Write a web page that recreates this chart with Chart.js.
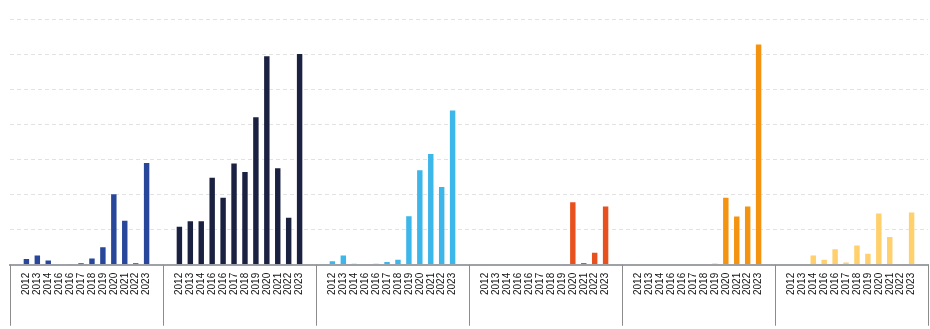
<!DOCTYPE html>
<html>
<head>
<meta charset="utf-8">
<script src="https://cdn.jsdelivr.net/npm/chart.js@4/dist/chart.umd.min.js"></script>
<style>
  html, body { margin: 0; padding: 0; background: #ffffff; }
  #wrap { width: 930px; height: 329px; position: relative; }
</style>
</head>
<body>
<div id="wrap"><canvas id="c"></canvas></div>
<script>
// Year labels repeated under each panel
const years = ['2012', '2013', '2014', '2016', '2016', '2017', '2018', '2019', '2020', '2021', '2022', '2023'];

// One series per panel, one value per year
const groupBlue   = [1.9, 2.9, 1.5, 0, 0.3, 0.65, 2.1, 5.3, 20.4, 12.8, 0.65, 29.3];
const groupNavy   = [11.1, 12.7, 12.7, 25.1, 19.4, 29.1, 26.7, 42.3, 59.7, 27.8, 13.7, 60.3];
const groupSky    = [1.3, 2.9, 0.4, 0, 0.4, 1.1, 1.7, 14.1, 27.2, 31.8, 22.4, 44.2];
const groupRed    = [0.1, 0, 0, 0, 0, 0, 0, 0.2, 18.1, 0.75, 3.7, 16.9];
const groupOrange = [0.3, 0, 0, 0, 0, 0, 0, 0.5, 19.4, 14.0, 16.9, 63.0];
const groupYellow = [0, 0, 2.9, 1.7, 4.7, 0.9, 5.8, 3.4, 14.9, 8.2, 0.15, 15.2];

const groups = [
  { values: groupBlue,   color: '#29479a' },
  { values: groupNavy,   color: '#1b2141' },
  { values: groupSky,    color: '#3db6e9' },
  { values: groupRed,    color: '#e8511e' },
  { values: groupOrange, color: '#f3930f' },
  { values: groupYellow, color: '#ffd06c' }
];

// Each panel: an empty slot, the twelve years, an empty slot
const slotsPerGroup = years.length + 2;
const labels = [];
groups.forEach(() => {
  labels.push('');
  years.forEach(y => labels.push(y));
  labels.push('');
});

const datasets = groups.map((g, gi) => {
  const data = new Array(labels.length).fill(null);
  g.values.forEach((v, i) => { data[gi * slotsPerGroup + 1 + i] = v; });
  return {
    data,
    backgroundColor: g.color,
    borderColor: 'rgba(255,255,255,0.35)',
    borderWidth: 1,
    grouped: false,
    barPercentage: 0.68,
    categoryPercentage: 1.0
  };
});

// Vertical dividers between panels, below the axis line
const panelDividers = {
  id: 'panelDividers',
  afterDraw(chart) {
    const xs = chart.scales.x;
    const ctx = chart.ctx;
    ctx.save();
    ctx.strokeStyle = '#8c8c8c';
    ctx.lineWidth = 1;
    for (let k = 0; k <= groups.length; k++) {
      const x = Math.round(xs.left + xs.width * (k * slotsPerGroup) / labels.length) + 0.5;
      ctx.beginPath();
      ctx.moveTo(x, xs.top);
      ctx.lineTo(x, xs.top + 61);
      ctx.stroke();
    }
    ctx.restore();
  }
};

new Chart(document.getElementById('c'), {
  type: 'bar',
  data: { labels, datasets },
  options: {
    responsive: true,
    maintainAspectRatio: false,
    animation: false,
    layout: { padding: { left: 10, right: 2, top: 19, bottom: 26 } },
    plugins: { legend: { display: false }, tooltip: { enabled: false } },
    scales: {
      x: {
        grid: { display: false, drawTicks: false },
        border: { display: true, color: '#9ea2a7', width: 2 },
        afterFit(scale) { scale.paddingLeft = 0; scale.paddingRight = 0; },
        ticks: {
          autoSkip: false,
          minRotation: 90,
          maxRotation: 90,
          padding: 8,
          color: '#111111',
          font: { family: '"Liberation Sans", Arial, sans-serif', size: 10 }
        }
      },
      y: {
        min: 0,
        max: 70,
        ticks: { display: false, stepSize: 10 },
        border: { display: false, dash: [4, 3] },
        grid: { color: '#e2e2e2', drawTicks: false, lineWidth: 1 }
      }
    }
  },
  plugins: [panelDividers]
});
</script>
</body>
</html>
